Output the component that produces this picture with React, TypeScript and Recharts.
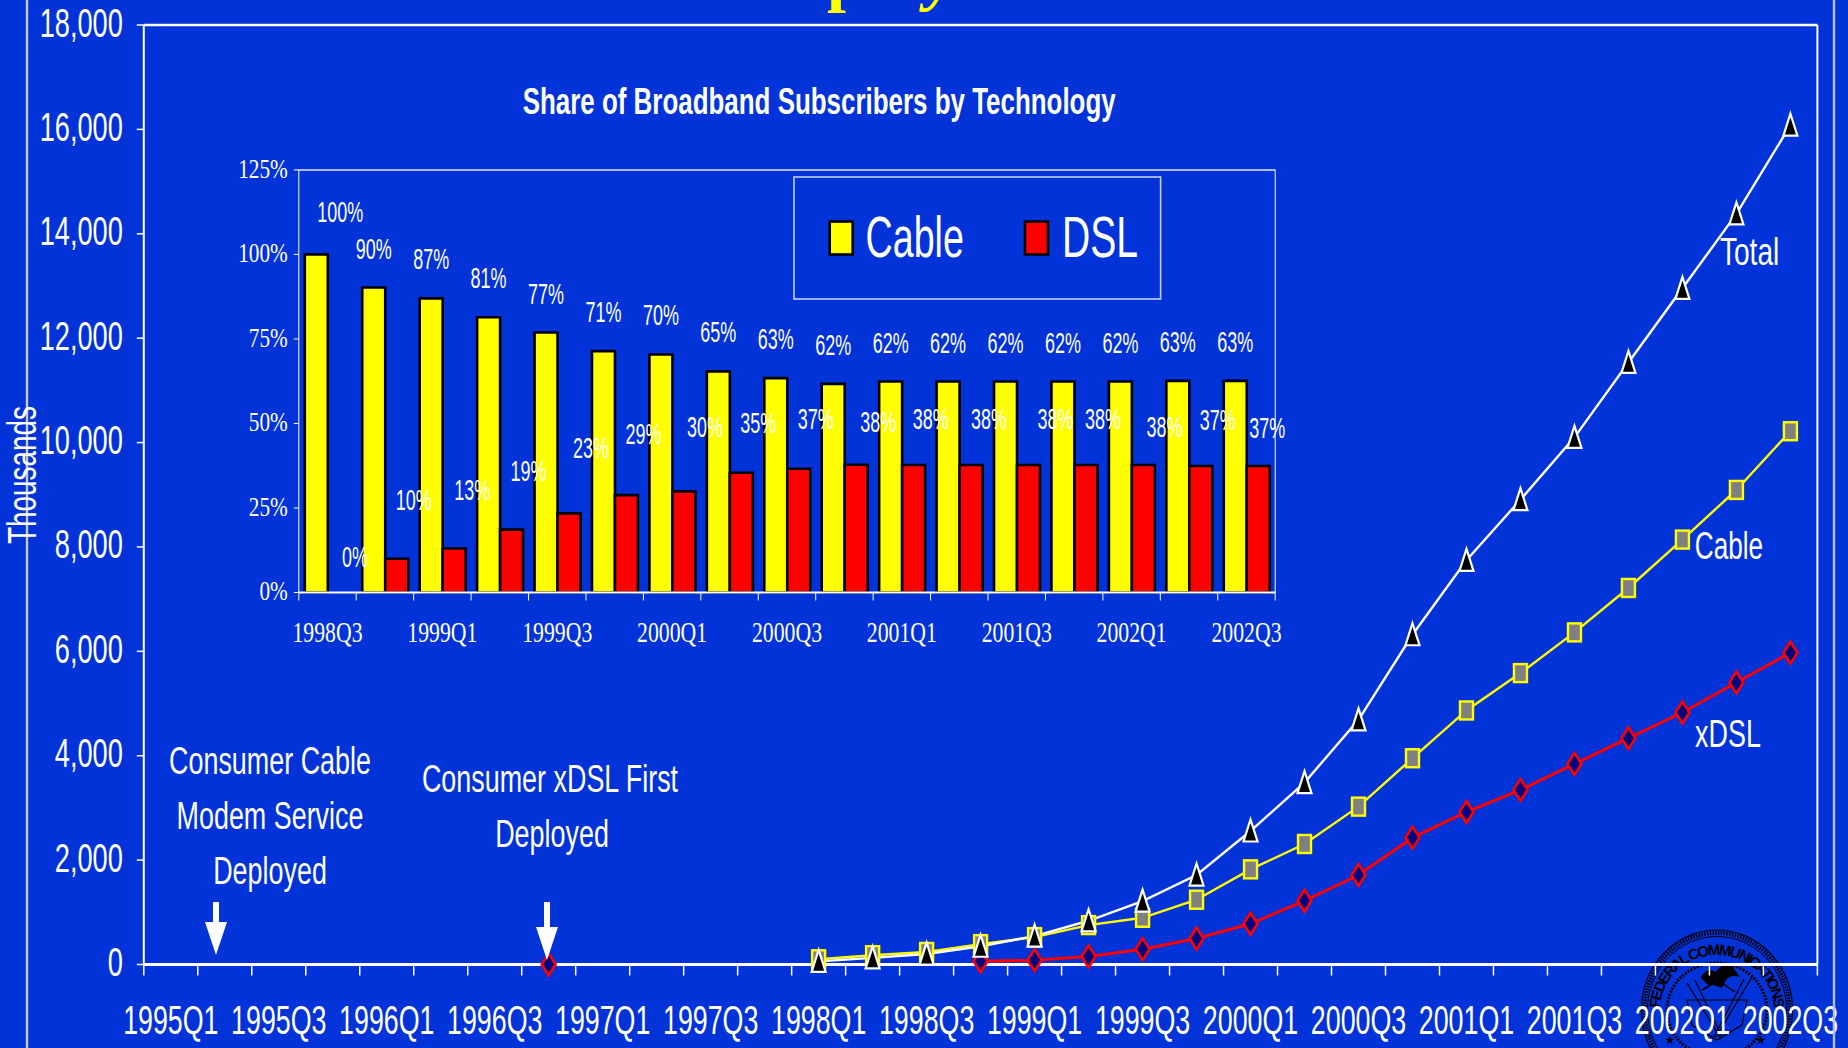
import React from "react";
import {
  ComposedChart, BarChart, Bar, Line, XAxis, YAxis, ReferenceLine, ReferenceDot, LabelList, Legend,
} from "recharts";

const quarters = [
  "1995Q1","1995Q2","1995Q3","1995Q4","1996Q1","1996Q2","1996Q3","1996Q4",
  "1997Q1","1997Q2","1997Q3","1997Q4","1998Q1","1998Q2","1998Q3","1998Q4",
  "1999Q1","1999Q2","1999Q3","1999Q4","2000Q1","2000Q2","2000Q3","2000Q4",
  "2001Q1","2001Q2","2001Q3","2001Q4","2002Q1","2002Q2","2002Q3",
];
const N = null;
const totalSeries = [N,N,N,N,N,N,N,N,N,N,N,N,60,127,200,350,544,838,1215,1714,2558,3485,4687,6318,7744,8905,10100,11535,12955,14380,16080];
const cableSeries = [N,N,N,N,N,N,N,N,N,N,N,N,100,178,240,390,524,755,895,1241,1823,2309,3025,3952,4867,5583,6363,7214,8141,9092,10217];
const xdslSeries = [N,N,N,N,N,N,N,0,N,N,N,N,N,N,N,63,83,153,294,499,780,1221,1714,2430,2922,3345,3843,4336,4828,5404,5973];
const yTicks = [0,2000,4000,6000,8000,10000,12000,14000,16000,18000];

const shareQuarters = ["1998Q3","1998Q4","1999Q1","1999Q2","1999Q3","1999Q4","2000Q1","2000Q2","2000Q3","2000Q4","2001Q1","2001Q2","2001Q3","2001Q4","2002Q1","2002Q2","2002Q3"];
const cableShare = [100,90.2,87,81.4,76.9,71.4,70.4,65.4,63.4,61.7,62.4,62.4,62.4,62.4,62.4,62.6,62.6];
const dslShare = [0,10,13,18.6,23.4,28.8,29.9,35.4,36.6,37.8,37.7,37.7,37.7,37.7,37.7,37.4,37.4];
const shareTicks = [0,25,50,75,100,125];

const mainData = quarters.map((q, i) => ({ q, Total: totalSeries[i], Cable: cableSeries[i], xDSL: xdslSeries[i] }));
const shareData = shareQuarters.map((q, i) => ({ q, Cable: cableShare[i], DSL: dslShare[i] }));

// layout
const BG = "#0233d8";
const SANS = "'Liberation Sans', Arial, sans-serif";
const SERIF = "'Liberation Serif', 'Times New Roman', serif";
const PLOT = { left: 143.8, right: 1817.4, top: 25, bottom: 964.5 };
const BAND = (PLOT.right - PLOT.left) / quarters.length;
const INSET = { x: 200, y: 140, left: 298.8, right: 1275.2, top: 169.9, bottom: 592.5 };
const IBAND = (INSET.right - INSET.left) / shareQuarters.length;

// label placement relative to the bar it belongs to
const dslLabelDx = [16,17,18,17,22,17,21,17,17,22,17,18,27,17,21,17,9];
const dslLabelLift = [35,59,59,59,65,61,64,50,50,43,46,46,46,46,38,46,38];
const bandIndex = (x: number) => Math.floor((x - (INSET.left - INSET.x)) / IBAND);

function Sq({ x, y, sx = 0.7, size = 38, anchor = "middle", family = SANS, weight = "normal", fill = "#fff", style = "normal", children }: any) {
  return (
    <text
      transform={`translate(${x},${y}) scale(${sx},1)`}
      textAnchor={anchor}
      fontFamily={family}
      fontSize={size}
      fontWeight={weight}
      fontStyle={style}
      fill={fill}
    >
      {children}
    </text>
  );
}

const MainYTick = ({ x, y, payload }: any) => (
  <Sq x={x} y={y + 11.5} anchor="end" sx={0.68} size={40}>{Number(payload.value).toLocaleString("en-US")}</Sq>
);

const MainXTick = ({ x, y, payload, index }: any) => (
  <g>
    <line x1={x - BAND / 2} x2={x - BAND / 2} y1={y} y2={y + 11} stroke="#fff" strokeWidth={1.5} />
    {index === quarters.length - 1 && (
      <line x1={x + BAND / 2} x2={x + BAND / 2} y1={y} y2={y + 11} stroke="#fff" strokeWidth={1.5} />
    )}
    {index % 2 === 0 && <Sq x={x} y={y + 69} sx={0.67} size={40}>{payload.value}</Sq>}
  </g>
);

const InsetYTick = ({ x, y, payload }: any) => (
  <Sq x={x} y={y + 7.6} anchor="end" sx={0.76} size={28} family={SERIF}>{`${payload.value}%`}</Sq>
);

const InsetXTick = ({ x, y, payload, index }: any) => (
  <g>
    <line x1={x - IBAND / 2} x2={x - IBAND / 2} y1={y} y2={y + 8} stroke="#fff" strokeWidth={1} />
    {index === shareQuarters.length - 1 && (
      <line x1={x + IBAND / 2} x2={x + IBAND / 2} y1={y} y2={y + 8} stroke="#fff" strokeWidth={1} />
    )}
    {index % 2 === 0 && <Sq x={x} y={y + 49.5} sx={0.75} size={29} family={SERIF}>{payload.value}</Sq>}
  </g>
);

const TriangleDot = ({ cx, cy, value }: any) =>
  value == null || cy == null ? null : (
    <polygon
      points={`${cx},${cy - 11.5} ${cx + 7},${cy + 10.5} ${cx - 7},${cy + 10.5}`}
      fill="#000"
      stroke="#fff"
      strokeWidth={2.2}
      strokeLinejoin="miter"
    />
  );

const SquareDot = ({ cx, cy, value }: any) =>
  value == null || cy == null ? null : (
    <rect x={cx - 6.5} y={cy - 9} width={13} height={18} fill="#808080" stroke="#ffff00" strokeWidth={2.4} />
  );

const DiamondDot = ({ cx, cy, value }: any) =>
  value == null || cy == null ? null : (
    <polygon
      points={`${cx},${cy - 11} ${cx + 7},${cy} ${cx},${cy + 11} ${cx - 7},${cy}`}
      fill="#000080"
      stroke="#ff0000"
      strokeWidth={2.6}
    />
  );

const CableLabel = ({ x, y, width, value }: any) => {
  const first = bandIndex(x) === 0;
  return (
    <Sq x={x + width / 2 + (first ? 24 : 0)} y={y - (first ? 42 : 39) + 10} sx={0.6} size={30}>{`${Math.round(value)}%`}</Sq>
  );
};

const DslLabel = ({ x, y, width, value }: any) => {
  const i = bandIndex(x);
  return (
    <Sq x={x + width / 2 + dslLabelDx[i]} y={y - dslLabelLift[i] + 10} sx={0.6} size={30}>{`${Math.round(value)}%`}</Sq>
  );
};

// a zero-height bar gets no label from LabelList, so the first DSL share is labelled here
const ZeroShareLabel = ({ cx, cy }: any) => (
  <Sq x={cx + 11.5 + dslLabelDx[0]} y={cy - dslLabelLift[0] + 10} sx={0.6} size={30}>{`${dslShare[0]}%`}</Sq>
);

const ShareLegend = ({ payload }: any) => {
  const items = payload || [];
  const pos = [
    { sw: 35.7, tx: 71.6, sx: 0.66 },
    { sw: 231, tx: 268, sx: 0.686 },
  ];
  return (
    <svg width={367} height={122} style={{ display: "block", overflow: "visible" }}>
      <rect x={0} y={0} width={366.6} height={122} fill="none" stroke="#c4d0f6" strokeWidth={1.6} />
      {items.map((it: any, i: number) => (
        <g key={it.value}>
          <rect x={pos[i].sw} y={44.5} width={23} height={33} fill={it.color} stroke="#000" strokeWidth={2.6} />
          <Sq x={pos[i].tx} y={80} anchor="start" sx={pos[i].sx} size={57}>{it.value}</Sq>
        </g>
      ))}
    </svg>
  );
};

const Arrow = ({ x, top, neck, tip }: any) => (
  <polygon
    points={`${x - 3},${top} ${x + 3},${top} ${x + 3},${neck} ${x + 11},${neck} ${x},${tip} ${x - 11},${neck} ${x - 3},${neck}`}
    fill="#fff"
  />
);

const Seal = () => {
  const cx = 1717, cy = 1010;
  return (
    <svg width={1848} height={1048} style={{ position: "absolute", left: 0, top: 0 }}>
      <g fill="none" stroke="#000">
        <ellipse cx={cx} cy={cy} rx={75.5} ry={80} strokeWidth={1.2} />
        <ellipse cx={cx} cy={cy} rx={72.5} ry={77} strokeWidth={4} strokeDasharray="1.4 1.4" />
        <ellipse cx={cx} cy={cy} rx={69.5} ry={73.5} strokeWidth={1} />
        <ellipse cx={cx} cy={cy} rx={50} ry={47} strokeWidth={3} strokeDasharray="2 1.4" />
        <path d={`M1687 983 L1720 1037 M1695 980 L1722 1037 M1752 977 L1716 1037 M1744 979 L1714 1037`} strokeWidth={1.2} />
        <path d={`M1687 1000 L1747 1000 L1742 1025 L1717 1040 L1692 1025 Z`} strokeWidth={1.2} />
        <path d={`M1702 990 L1730 974 M1706 972 L1735 992`} strokeWidth={1.5} />
      </g>
      <path
        d="M1701 978 Q1706 966 1716 972 Q1722 962 1732 966 L1740 977 Q1730 974 1726 980 L1722 988 Q1712 984 1708 985 Z"
        fill="#000"
      />
      <defs>
        <path id="sealTop" d={`M${cx - 57} ${cy} A57 55 0 0 1 ${cx + 57} ${cy}`} />
        <path id="sealBottom" d={`M${cx - 68} ${cy} A68 66 0 0 0 ${cx + 68} ${cy}`} />
      </defs>
      <text fontFamily={SANS} fontWeight="bold" fontSize={15} fill="#000">
        <textPath href="#sealTop" startOffset="1%" textLength={172} lengthAdjust="spacing">FEDERAL COMMUNICATIONS</textPath>
      </text>
      <text fontFamily={SANS} fontWeight="bold" fontSize={13} fill="#000" textAnchor="middle">
        <textPath href="#sealBottom" startOffset="50%">COMMISSION</textPath>
      </text>
      <text x={1670} y={1044} fontSize={12} fontFamily="'DejaVu Sans'" fill="#000" textAnchor="middle">★</text>
      <text x={1761} y={1044} fontSize={12} fontFamily="'DejaVu Sans'" fill="#000" textAnchor="middle">★</text>
    </svg>
  );
};

export default function App() {
  return (
    <div style={{ position: "absolute", left: 0, top: 0, width: 1848, height: 1048, overflow: "hidden", background: BG }}>
      <Seal />

      <div style={{ position: "absolute", left: 0, top: 0 }}>
        <ComposedChart
          width={1848}
          height={1048}
          data={mainData}
          margin={{ top: PLOT.top, right: 0, bottom: 0, left: 0 }}
        >
          <XAxis
            dataKey="q"
            scale="band"
            interval={0}
            height={1048 - PLOT.bottom}
            tick={MainXTick}
            tickLine={false}
            tickSize={0}
            tickMargin={0}
            axisLine={{ stroke: "#fff", strokeWidth: 3 }}
          />
          <YAxis
            yAxisId="main"
            width={PLOT.left}
            domain={[0, 18000]}
            ticks={yTicks}
            interval={0}
            tick={MainYTick}
            tickSize={7}
            tickMargin={14}
            tickLine={{ stroke: "#fff", strokeWidth: 1.5 }}
            axisLine={{ stroke: "#fff", strokeWidth: 2 }}
          />
          <YAxis
            yAxisId="frame"
            orientation="right"
            width={1848 - PLOT.right}
            domain={[0, 18000]}
            tick={false}
            tickLine={false}
            axisLine={{ stroke: "#fff", strokeWidth: 2 }}
          />
          <ReferenceLine yAxisId="main" y={18000} stroke="#fff" strokeWidth={2.5} />
          <Line yAxisId="main" dataKey="xDSL" stroke="#ff0000" strokeWidth={3} dot={<DiamondDot />} activeDot={false} isAnimationActive={false} />
          <Line yAxisId="main" dataKey="Cable" stroke="#ffff00" strokeWidth={2.4} dot={<SquareDot />} activeDot={false} isAnimationActive={false} />
          <Line yAxisId="main" dataKey="Total" stroke="#fff" strokeWidth={2.4} dot={<TriangleDot />} activeDot={false} isAnimationActive={false} />
        </ComposedChart>
      </div>

      <div style={{ position: "absolute", left: INSET.x, top: INSET.y }}>
        <BarChart
          width={INSET.right - INSET.x + 30}
          height={INSET.bottom - INSET.y + 60}
          data={shareData}
          barSize={23}
          barGap={0}
          margin={{ top: INSET.top - INSET.y, right: 0, bottom: 0, left: 0 }}
        >
          <XAxis
            dataKey="q"
            interval={0}
            height={60}
            tick={InsetXTick}
            tickLine={false}
            tickSize={0}
            tickMargin={0}
            axisLine={{ stroke: "#fff", strokeWidth: 2 }}
          />
          <YAxis
            yAxisId="share"
            width={INSET.left - INSET.x}
            domain={[0, 125]}
            ticks={shareTicks}
            interval={0}
            tick={InsetYTick}
            tickSize={5}
            tickMargin={6}
            tickLine={{ stroke: "#fff", strokeWidth: 1 }}
            axisLine={{ stroke: "#fff", strokeWidth: 1 }}
          />
          <YAxis
            yAxisId="shareFrame"
            orientation="right"
            width={30}
            domain={[0, 125]}
            tick={false}
            tickLine={false}
            axisLine={{ stroke: "#fff", strokeWidth: 1 }}
          />
          <ReferenceLine yAxisId="share" y={125} stroke="#a9bbf3" strokeWidth={2} />
          <Legend
            layout="horizontal"
            verticalAlign="middle"
            align="center"
            content={<ShareLegend />}
            wrapperStyle={{ left: 594.4, top: 37, width: 367, height: 122 }}
          />
          <Bar yAxisId="share" dataKey="Cable" fill="#ffff00" stroke="#000" strokeWidth={2.6} isAnimationActive={false}>
            <LabelList dataKey="Cable" content={<CableLabel />} />
          </Bar>
          <Bar yAxisId="share" dataKey="DSL" fill="#ff0000" stroke="#000" strokeWidth={2.6} isAnimationActive={false}>
            <LabelList dataKey="DSL" content={<DslLabel />} />
          </Bar>
          <ReferenceDot yAxisId="share" x={shareQuarters[0]} y={dslShare[0]} shape={ZeroShareLabel} ifOverflow="visible" />
        </BarChart>
      </div>

      <svg width={1848} height={1048} style={{ position: "absolute", left: 0, top: 0, pointerEvents: "none" }}>
        <line x1={27} x2={27} y1={0} y2={1048} stroke="#c9c9d6" strokeWidth={2.4} />
        <line x1={1834} x2={1834} y1={0} y2={1048} stroke="#b5c3f3" strokeWidth={2.4} />

        <Sq x={846} y={-1} sx={1} size={68} family={SERIF} weight="bold" fill="#ffff00">p</Sq>
        <Sq x={941} y={-2} sx={1} size={68} family={SERIF} weight="bold" style="italic" fill="#ffff00">y</Sq>

        <g transform="translate(35.5,475) rotate(-90)">
          <Sq x={0} y={0} sx={0.68} size={41}>Thousands</Sq>
        </g>

        <text x={522.7} y={114} fontFamily={SANS} fontWeight="bold" fontSize={36} fill="#fff" textLength={593} lengthAdjust="spacingAndGlyphs">
          Share of Broadband Subscribers by Technology
        </text>

        <Sq x={270} y={774} sx={0.69} size={39}>Consumer Cable</Sq>
        <Sq x={270} y={829} sx={0.69} size={39}>Modem Service</Sq>
        <Sq x={270} y={884} sx={0.69} size={39}>Deployed</Sq>
        <Sq x={550} y={792} sx={0.69} size={39}>Consumer xDSL First</Sq>
        <Sq x={552} y={847} sx={0.69} size={39}>Deployed</Sq>
        <Arrow x={216} top={902} neck={922} tip={955} />
        <Arrow x={547} top={902} neck={927} tip={960} />

        <Sq x={1749.6} y={265} sx={0.72} size={39}>Total</Sq>
        <Sq x={1729} y={559} sx={0.67} size={39}>Cable</Sq>
        <Sq x={1728} y={747} sx={0.69} size={39}>xDSL</Sq>
      </svg>
    </div>
  );
}
